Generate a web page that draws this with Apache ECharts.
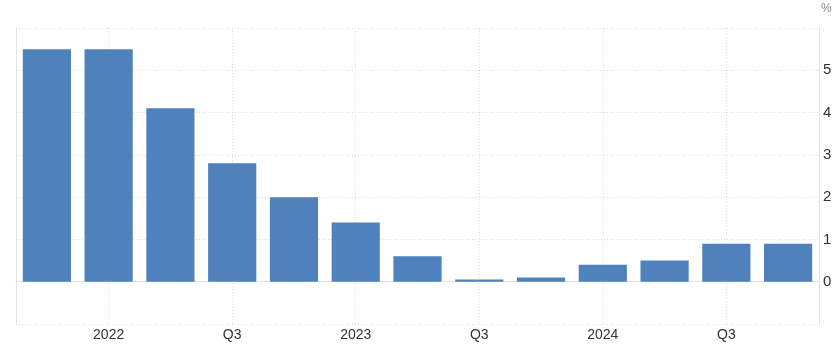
<!DOCTYPE html>
<html>
<head>
<meta charset="utf-8">
<script src="https://cdn.jsdelivr.net/npm/echarts@6/dist/echarts.min.js"></script>
<style>
html,body{margin:0;padding:0;background:#fff;}
#chart{width:838px;height:351px;}
</style>
</head>
<body>
<div id="chart"></div>
<script>
var categories = ['Q4 2021', '2022', 'Q2', 'Q3', 'Q4', '2023', 'Q2', 'Q3', 'Q4', '2024', 'Q2', 'Q3', 'Q4'];
var values = [5.5, 5.5, 4.1, 2.8, 2.0, 1.4, 0.6, 0.05, 0.1, 0.4, 0.5, 0.9, 0.9];
var yTicks = [-1, 0, 1, 2, 3, 4, 5, 6];
var unitLabel = '%';

function oddIdx(i) { return i % 2 === 1; }

var chart = echarts.init(document.getElementById('chart'), null, {renderer: 'canvas'});
chart.setOption({
  animation: false,
  backgroundColor: '#ffffff',
  grid: {left: 16, right: 19, top: 28, bottom: 27, containLabel: false},
  graphic: [{
    type: 'text', left: 821, top: 3,
    style: {text: unitLabel, fill: '#8a8a8a', font: '12px Arial, "Liberation Sans", sans-serif'}
  }],
  xAxis: {
    type: 'category',
    data: categories,
    boundaryGap: true,
    axisLine: {show: true, lineStyle: {color: '#e3e3e3', width: 1}},
    axisTick: {show: false},
    axisLabel: {
      interval: oddIdx, margin: 4, color: '#333333', fontSize: 14,
      fontFamily: 'Arial, "Liberation Sans", sans-serif'
    },
    splitLine: {show: true, interval: oddIdx, alignWithLabel: true, lineStyle: {color: '#dcdcdc', type: [1, 2], width: 1}}
  },
  yAxis: [{
    type: 'value',
    position: 'right',
    min: yTicks[0], max: yTicks[yTicks.length - 1], interval: 1,
    axisLine: {show: true, lineStyle: {color: '#e3e3e3', width: 1}},
    axisTick: {show: false},
    axisLabel: {
      showMinLabel: false, showMaxLabel: false, margin: 4, color: '#333333', fontSize: 15,
      fontFamily: 'Arial, "Liberation Sans", sans-serif'
    },
    splitLine: {show: true, lineStyle: {color: '#dcdcdc', type: [1, 2], width: 1}}
  }, {
    type: 'value',
    position: 'left',
    min: yTicks[0], max: yTicks[yTicks.length - 1], interval: 1,
    axisLine: {show: true, lineStyle: {color: '#e3e3e3', width: 1}},
    axisTick: {show: false},
    axisLabel: {show: false},
    splitLine: {show: false}
  }],
  series: [{
    type: 'bar',
    data: values,
    yAxisIndex: 0,
    barWidth: '78%',
    itemStyle: {color: '#4f81bd'}
  }]
});
</script>
</body>
</html>
